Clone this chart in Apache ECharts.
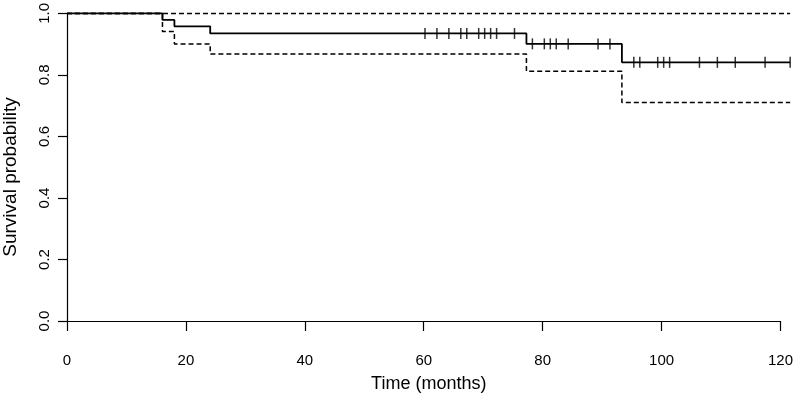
<!DOCTYPE html>
<html>
<head>
<meta charset="utf-8">
<script src="https://cdn.jsdelivr.net/npm/echarts@6/dist/echarts.min.js"></script>
<style>html,body{margin:0;padding:0;background:#fff}#c{width:796px;height:401px}</style>
</head>
<body>
<div id="c"></div>
<script>
// Kaplan-Meier step points (time in months)
var stepTimes = [0, 16, 18, 24, 77, 93, 121.2];
var survival  = [1, 0.979, 0.958, 0.935, 0.901, 0.841, 0.841];
var lowerCI   = [1, 0.941, 0.901, 0.868, 0.812, 0.710, 0.710];
var upperCI   = [1, 1, 1, 1, 1, 1, 1];
// censoring times
var censorTimes = [60, 62, 64, 66, 67, 69, 70, 71, 72, 75, 78, 80, 81, 82, 84, 89, 91,
                   95, 96, 99, 100, 101, 106, 109, 112, 117, 121.2];
var xTicks = [0, 20, 40, 60, 80, 100, 120];
var yTicks = ['0.0', '0.2', '0.4', '0.6', '0.8', '1.0'];

function pairs(ys) { return stepTimes.map(function (t, i) { return [t, ys[i]]; }); }
function survAt(t) {
  var v = survival[0];
  for (var i = 0; i < stepTimes.length; i++) { if (stepTimes[i] <= t) v = survival[i]; }
  return v;
}
var FONT = "'Liberation Sans', Arial, Helvetica, sans-serif";
// plot width per month: (783-67)/120
var pxPerMonth = (783 - 67) / 120;
var dataMax = 121.5;
var chart = echarts.init(document.getElementById('c'), null, {renderer: 'canvas'});
chart.setOption({
  animation: false,
  backgroundColor: '#fff',
  grid: [
    {left: 67, width: dataMax * pxPerMonth, top: 12, bottom: 80},
    {left: 67, right: 13, top: 12, bottom: 80}
  ],
  xAxis: [
    {type: 'value', gridIndex: 0, min: 0, max: dataMax, show: false},
    {
      type: 'value', gridIndex: 1, min: 0, max: 120, interval: 20, offset: 12,
      name: 'Time (months)', nameLocation: 'middle', nameGap: 42,
      nameTextStyle: {fontFamily: FONT, fontSize: 18, color: '#000', padding: [0, 0, 0, 10]},
      axisLine: {show: true, lineStyle: {color: '#000', width: 1.2}},
      axisTick: {show: true, inside: false, length: 10, lineStyle: {color: '#000', width: 1.2}},
      axisLabel: {fontFamily: FONT, fontSize: 15, color: '#000', margin: 20,
        formatter: function (v) { return xTicks.indexOf(v) >= 0 ? String(v) : ''; }},
      splitLine: {show: false}
    }
  ],
  yAxis: [
    {
      type: 'value', gridIndex: 0, min: 0, max: 1, interval: 0.2,
      axisLine: {show: true, lineStyle: {color: '#000', width: 1.2}},
      axisTick: {show: true, inside: false, length: 9, lineStyle: {color: '#000', width: 1.2}},
      axisLabel: {fontFamily: FONT, fontSize: 15, color: '#000', margin: 15, rotate: 90,
        formatter: function (v) { return yTicks[Math.round(v * 5)]; }},
      splitLine: {show: false}
    },
    {type: 'value', gridIndex: 1, min: 0, max: 1, show: false}
  ],
  graphic: [{
    type: 'text', x: 11, y: 177, rotation: Math.PI / 2,
    style: {text: 'Survival probability', fontFamily: FONT, fontSize: 19, fill: '#000',
            textAlign: 'center', textVerticalAlign: 'middle'}
  }],
  series: [
    {type: 'line', step: 'end', data: pairs(upperCI), symbol: 'none', clip: false,
     lineStyle: {color: '#000', width: 1.5, type: [5, 3]}, z: 2},
    {type: 'line', step: 'end', data: pairs(lowerCI), symbol: 'none', clip: false,
     lineStyle: {color: '#000', width: 1.5, type: [5, 3]}, z: 2},
    {type: 'line', step: 'end', data: pairs(survival), symbol: 'none', clip: false,
     lineStyle: {color: '#000', width: 1.8}, z: 3},
    {type: 'scatter', clip: false, symbol: 'rect', symbolSize: [1.5, 11],
     itemStyle: {color: '#000'},
     data: censorTimes.map(function (t) { return [t, survAt(t)]; }), z: 4}
  ]
});
</script>
</body>
</html>
